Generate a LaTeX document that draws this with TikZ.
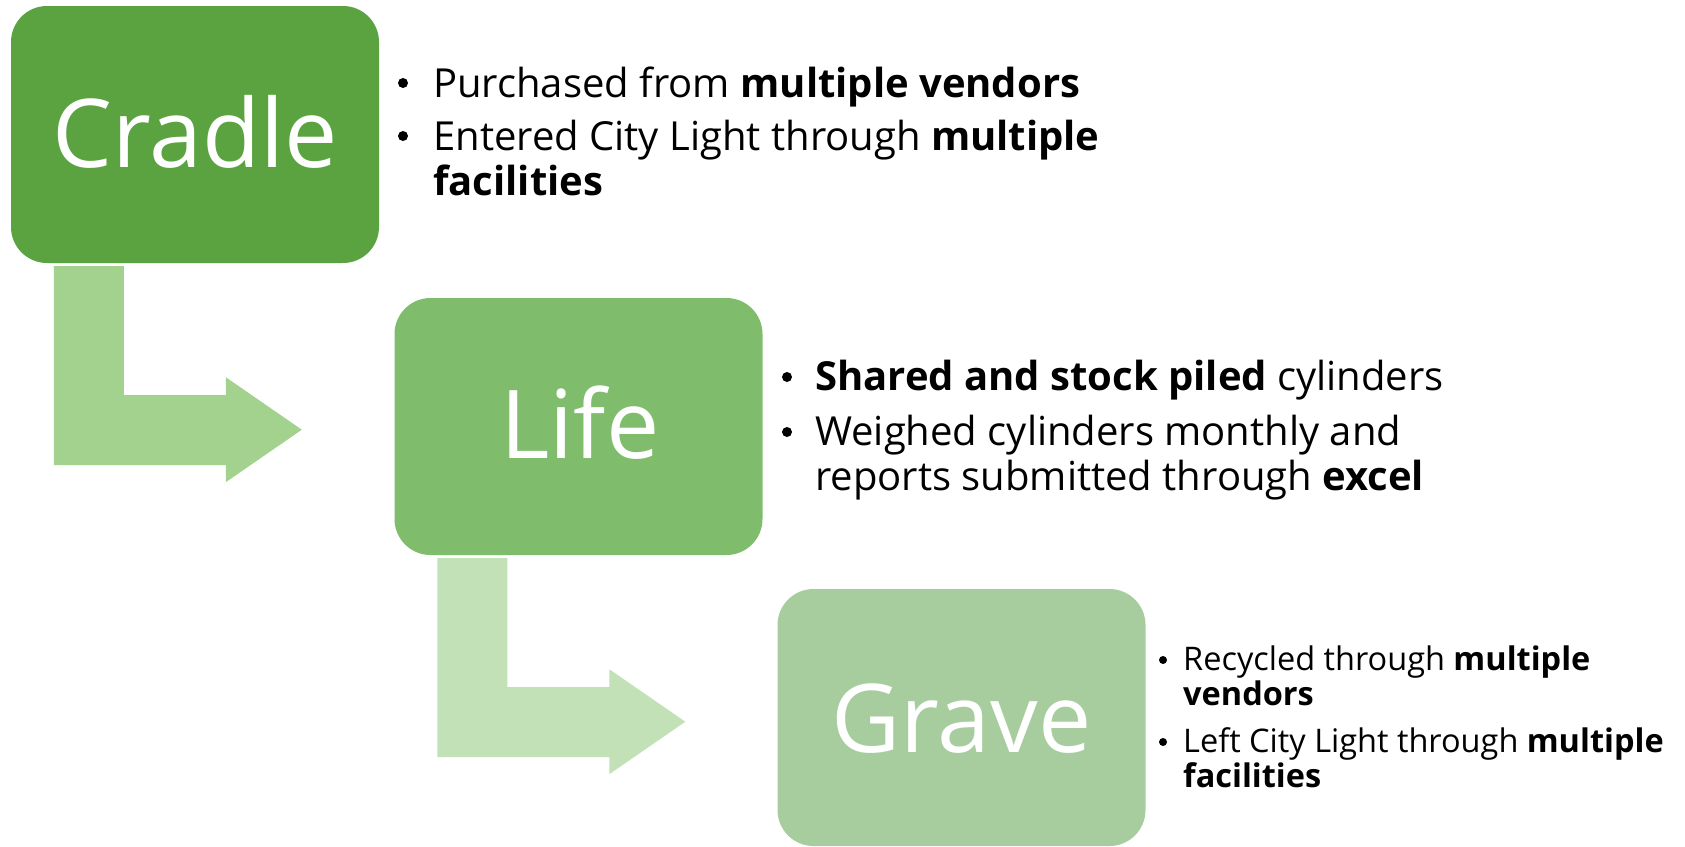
\documentclass[tikz,border=0pt]{standalone}
\usepackage{fontspec}
\setmainfont{Open Sans}
\usetikzlibrary{calc}
\definecolor{cradleC}{HTML}{5AA340}
\definecolor{lifeC}{HTML}{7FBD6D}
\definecolor{graveC}{HTML}{A7CD9E}
\definecolor{arrowA}{HTML}{A3D28F}
\definecolor{arrowB}{HTML}{C2E1B6}
\tikzset{
  stage/.style={rectangle, rounded corners=36pt, minimum width=368pt, minimum height=257pt, inner sep=0pt, draw=none},
  stagelabel/.style={anchor=base, text=white, inner sep=0pt, font=\fontsize{95}{110}\selectfont},
  bigtext/.style={anchor=base west, inner sep=0pt, font=\fontsize{40}{45}\selectfont},
  smalltext/.style={anchor=base west, inner sep=0pt, font=\fontsize{32.5}{36}\selectfont},
  bulletdot/.style={fill=black},
}
\newcommand{\bentarrow}[2]{%
  \fill[#2, shift={($(#1.south west)+(43,3)$)}]
    (0,0) -- (70,0) -- (70,129) -- (172,129) -- (172,111) -- (248,163.5)
    -- (172,216) -- (172,199) -- (0,199) -- cycle;}
\begin{document}
\begin{tikzpicture}[x=1pt,y=-1pt]
\useasboundingbox (0,0) rectangle (1685,846);
% stages
\node[stage, fill=cradleC] (cradle) at (195,134.5) {};
\node[stage, fill=lifeC] (life) at (578.5,426.5) {};
\node[stage, fill=graveC] (grave) at (961.5,717.5) {};
% bent arrows
\bentarrow{cradle}{arrowA}
\bentarrow{life}{arrowB}
% stage labels
\node[stagelabel] (cradlelabel) at (195,167) {Cradle};
\node[stagelabel] (lifelabel) at (580,458) {Life};
\node[stagelabel] (gravelabel) at (961.5,752) {Grave};
% cradle text
\node[bigtext] (c1) at (433,97) {Purchased from \textbf{multiple vendors}};
\node[bigtext] (c2) at (433,150) {Entered City Light through \textbf{multiple}};
\node[bigtext] (c3) at (433,195) {\textbf{facilities}};
% life text
\node[bigtext] (l1) at (815,390) {\textbf{Shared and stock piled} cylinders};
\node[bigtext] (l2) at (815,445) {Weighed cylinders monthly and};
\node[bigtext] (l3) at (815,490) {reports submitted through \textbf{excel}};
% grave text
\node[smalltext] (g1) at (1183,670) {Recycled through \textbf{multiple}};
\node[smalltext] (g2) at (1183,705) {\textbf{vendors}};
\node[smalltext] (g3) at (1183,752) {Left City Light through \textbf{multiple}};
\node[smalltext] (g4) at (1183,787) {\textbf{facilities}};
% bullets
\foreach \n in {c1,c2} \fill[bulletdot] ($(\n.base west)+(-30,-14)$) circle (5pt);
\foreach \n in {l1,l2} \fill[bulletdot] ($(\n.base west)+(-28,-13)$) circle (5pt);
\foreach \n in {g1,g3} \fill[bulletdot] ($(\n.base west)+(-20,-10)$) circle (4pt);
\end{tikzpicture}
\end{document}
